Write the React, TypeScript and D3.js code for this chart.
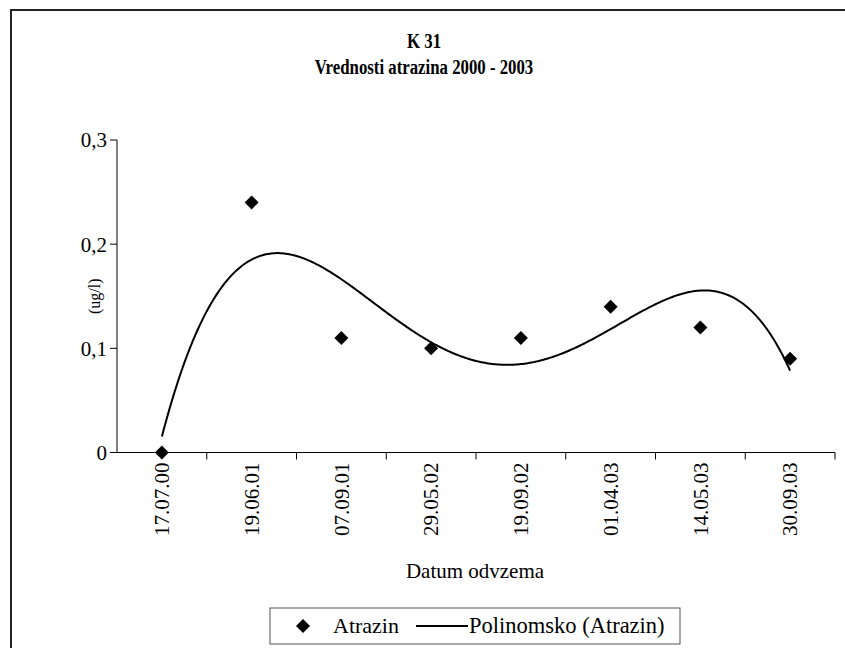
import React from "react";
import * as d3 from "d3";

const categories = ["17.07.00", "19.06.01", "07.09.01", "29.05.02", "19.09.02", "01.04.03", "14.05.03", "30.09.03"];
const atrazin = [0, 0.24, 0.11, 0.1, 0.11, 0.14, 0.12, 0.09];
const yTicks = [0, 0.1, 0.2, 0.3];
const yTickLabels = ["0", "0,1", "0,2", "0,3"];
const titleLines = ["K 31", "Vrednosti atrazina 2000 - 2003"];
const polyOrder = 4;

function polyFit(xs: number[], ys: number[], order: number): number[] {
  const n = order + 1;
  const A: number[][] = Array.from({ length: n }, () => new Array(n + 1).fill(0));
  for (let i = 0; i < xs.length; i++) {
    for (let r = 0; r < n; r++) {
      for (let c = 0; c < n; c++) A[r][c] += Math.pow(xs[i], r + c);
      A[r][n] += ys[i] * Math.pow(xs[i], r);
    }
  }
  for (let p = 0; p < n; p++) {
    let max = p;
    for (let r = p + 1; r < n; r++) if (Math.abs(A[r][p]) > Math.abs(A[max][p])) max = r;
    [A[p], A[max]] = [A[max], A[p]];
    for (let r = 0; r < n; r++) {
      if (r === p) continue;
      const f = A[r][p] / A[p][p];
      for (let c = p; c <= n; c++) A[r][c] -= f * A[p][c];
    }
  }
  return A.map((row, i) => row[n] / row[i]);
}

export default function App() {
  const W = 845, H = 648;
  const left = 117, right = 835, top = 140, bottom = 452.5;
  const x = d3.scaleBand<string>().domain(categories).range([left, right]);
  const y = d3.scaleLinear().domain([0, 0.3]).range([bottom, top]);
  const cx = (i: number) => (x(categories[i]) as number) + x.bandwidth() / 2;

  const xs = atrazin.map((_, i) => i + 1 - 4.5);
  const coef = polyFit(xs, atrazin, polyOrder);
  const evalP = (t: number) => coef.reduce((s, c, k) => s + c * Math.pow(t - 4.5, k), 0);
  const xLin = d3.scaleLinear().domain([1, 8]).range([cx(0), cx(7)]);
  const samples = d3.range(1, 8.0001, 0.02);
  const line = d3.line<number>().x((t) => xLin(t)).y((t) => y(evalP(t))).curve(d3.curveLinear);

  const diamond = d3.symbol().type(d3.symbolSquare).size(98)() as string;
  const font = "'Liberation Serif', Tinos, 'Times New Roman', 'DejaVu Serif', serif";
  const fs = 21;

  return (
    <svg width={W} height={H} style={{ position: "absolute", left: 0, top: 0, background: "#fff", fontFamily: font }}>
      <rect x={0} y={0} width={W} height={H} fill="#fff" />
      <rect x={11} y={10} width={W + 50} height={H + 50} fill="none" stroke="#222" strokeWidth={2} />
      {titleLines.map((t, i) => (
        <text key={i} transform={`translate(424,${48 + i * 26}) scale(0.84,1)`} textAnchor="middle" fontWeight="bold" fontSize={20} style={{ fontFamily: font }}>{t}</text>
      ))}
      {/* y axis */}
      <line x1={left} x2={left} y1={top} y2={bottom} stroke="#000" />
      {yTicks.map((v, i) => (
        <g key={v}>
          <line x1={left - 7} x2={left} y1={y(v)} y2={y(v)} stroke="#000" />
          <text x={left - 10} y={y(v)} dy="0.35em" textAnchor="end" fontSize={fs} style={{ fontFamily: font }}>{yTickLabels[i]}</text>
        </g>
      ))}
      <text transform={`translate(100,${(top + bottom) / 2}) rotate(-90)`} textAnchor="middle" fontSize={16} style={{ fontFamily: font }}>(ug/l)</text>
      {/* x axis */}
      <line x1={left} x2={right} y1={bottom} y2={bottom} stroke="#000" />
      {categories.map((c, i) => (
        <g key={c}>
          <line x1={(x(c) as number) + x.bandwidth()} x2={(x(c) as number) + x.bandwidth()} y1={bottom} y2={bottom + 7} stroke="#000" />
          <text transform={`translate(${cx(i)},${bottom + 10}) rotate(-90)`} dy="0.35em" textAnchor="end" fontSize={fs} style={{ fontFamily: font }}>{c}</text>
        </g>
      ))}
      <text x={(left + right) / 2 - 1} y={578} textAnchor="middle" fontSize={fs} style={{ fontFamily: font }}>Datum odvzema</text>
      {/* trendline */}
      <path d={line(samples) as string} fill="none" stroke="#000" strokeWidth={2} />
      {/* points */}
      {atrazin.map((v, i) => (
        <path key={i} d={diamond} transform={`translate(${cx(i)},${y(v)}) rotate(45)`} fill="#000" />
      ))}
      {/* legend */}
      <rect x={270} y={608} width={410} height={36} fill="#fff" stroke="#555" strokeWidth={1} />
      <path d={diamond} transform="translate(303,626) rotate(45)" fill="#000" />
      <text x={333} y={633} fontSize={22} style={{ fontFamily: font }}>Atrazin</text>
      <line x1={416} x2={468} y1={626} y2={626} stroke="#000" strokeWidth={2} />
      <text x={469} y={633} fontSize={22.5} style={{ fontFamily: font }}>Polinomsko (Atrazin)</text>
    </svg>
  );
}
